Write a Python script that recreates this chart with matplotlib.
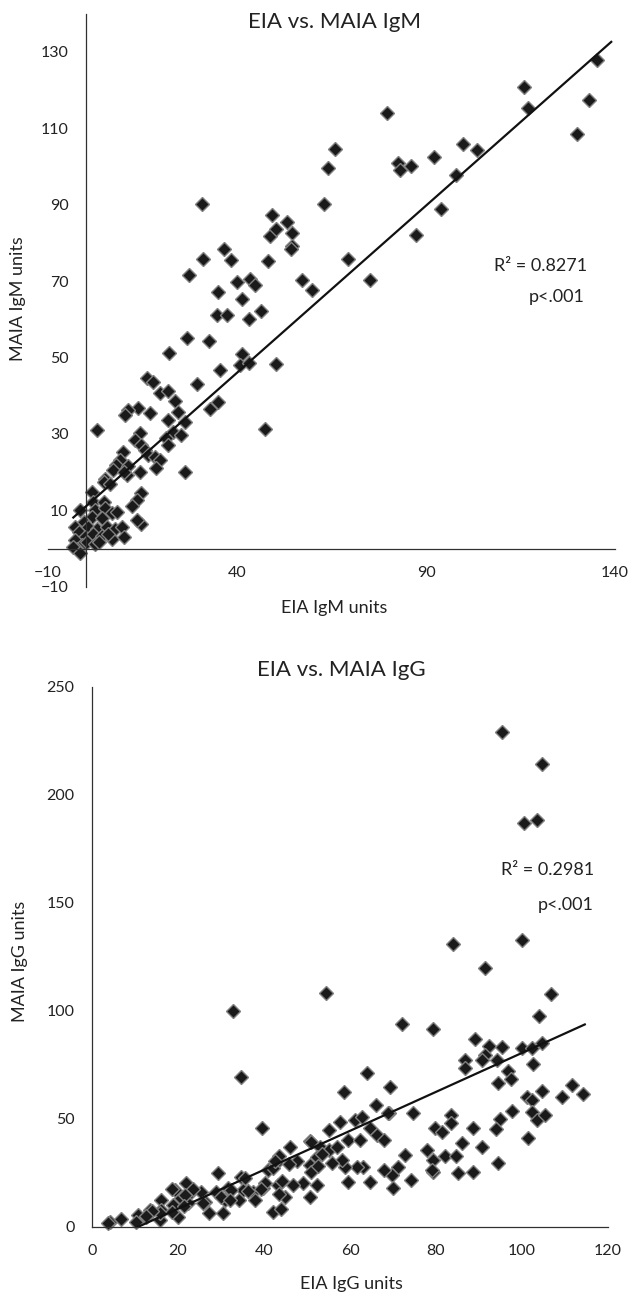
import numpy as np
import matplotlib
matplotlib.use("Agg")
import matplotlib.pyplot as plt

plt.rcParams['font.family'] = ['Lato', 'DejaVu Sans']

# ---- IgM data (EIA units, MAIA units) ----
igm_eia = [
    30.7, 31.1, 27.3, 36.5, 38.4, 35.0, 40.1, 41.2, 43.4, 44.7, 34.8, 37.3, 43.3, 46.4,
    48.3, 49.3, 48.8, 50.3, 53.2, 54.6, 54.6, 54.4, 57.2, 59.9, 62.9, 64.1, 65.9, 69.4,
    75.2, 79.7, 82.6, 83.2, 86.0, 87.4, 92.1, 94.0, 97.9, 99.8, 103.6, 115.9, 116.9,
    130.0, 133.2, 135.2,
    26.8, 32.6, 22.0, 41.4, 40.9, 43.2, 50.4, 35.4, 29.5, 16.1, 17.8, 19.6, 21.8, 23.5,
    35.0, 32.8, 13.8, 11.2, 10.3, 16.9, 24.4, 21.8, 26.2, 23.1, 25.3, 21.3, 21.8, 14.3,
    13.0, 14.7, 9.9, 15.6, 16.5, 18.3, 19.6, 18.7, 9.0, 8.1, 11.2, 14.3, 26.2, 11.0,
    47.4, 2.9,
    7.3, 10.0, 5.1, 4.7, 6.4, 14.6, 13.5, 12.2, 14.6, 13.5, 1.6, -1.5, 2.0, 4.7, 2.5,
    5.0, 6.9, 8.2, 1.6, 4.2, -0.6, -2.8, 0.7, 2.9, 5.6, 7.8, 9.5, -1.9, -0.2, 2.0, 4.2,
    6.9, 10.0, -2.8, -1.1, -2.4, 0.3, 2.5, -3.3, -1.5, 3.4, 6.0,
]
igm_maia = [
    90.3, 75.9, 71.5, 78.5, 75.4, 67.1, 69.7, 65.4, 70.6, 68.9, 61.0, 61.0, 60.1, 62.1,
    75.2, 87.4, 81.9, 83.7, 85.6, 82.7, 79.3, 78.5, 70.3, 67.6, 90.1, 99.7, 104.5, 75.9,
    70.4, 114.0, 100.9, 99.2, 100.1, 82.0, 102.5, 88.8, 97.9, 106.0, 104.4, 120.7, 115.4,
    108.6, 117.3, 127.8,
    55.1, 54.3, 51.3, 51.0, 48.0, 48.6, 48.4, 46.7, 43.1, 44.6, 43.7, 40.6, 41.3, 38.7,
    38.4, 36.4, 36.7, 36.3, 34.9, 35.4, 35.8, 33.6, 33.2, 30.6, 29.7, 28.8, 27.1, 30.2,
    28.4, 27.1, 25.3, 25.8, 24.5, 24.0, 23.2, 21.0, 23.2, 21.9, 21.6, 20.1, 20.1, 19.2,
    31.3, 31.0,
    20.5, 20.1, 18.3, 17.5, 17.0, 14.4, 12.7, 11.1, 6.5, 7.4, 14.8, 10.0, 12.2, 12.2, 10.0,
    10.5, 9.2, 9.6, 8.3, 7.9, 7.0, 5.7, 5.7, 5.2, 5.7, 5.2, 5.7, 4.4, 3.1, 3.9, 3.2,
    2.6, 3.1, 2.2, 0.9, 0.0, 1.7, 1.3, 0.4, -1.3, 1.7, 3.9,
]

# ---- IgG data ----
igg_eia = [
    95.3, 104.7, 100.5, 103.5, 83.9, 99.9, 91.3, 54.5, 106.8, 32.8, 72.0, 79.4, 104.0, 34.7,
    89.1, 92.4, 95.3, 99.9, 102.3, 104.6, 91.4, 90.6, 86.7, 86.7, 94.1, 102.5, 96.8, 97.4,
    94.5, 111.6, 114.1, 109.4, 104.7, 101.1, 102.3, 97.6, 94.9, 94.0, 102.3, 103.4, 105.3,
    101.5, 83.6, 83.6, 79.8, 81.3, 88.5, 86.0, 90.8, 82.1, 84.7, 94.5,
    85.1, 88.7, 79.2, 78.0, 79.2, 64.0, 69.2, 58.7, 66.0, 69.0, 74.7,
    68.9, 57.7, 61.2, 62.7, 55.0, 64.7, 66.2, 67.8, 59.6, 62.3, 50.7, 53.0, 55.0, 56.9,
    46.0, 39.5, 72.8, 71.2, 69.7, 67.8, 74.3, 70.1, 63.1, 61.6, 64.7, 59.6, 58.8, 58.1,
    55.7, 52.3, 50.7, 52.3, 49.1, 46.8, 50.7, 79.0, 51.0, 53.6, 50.9, 52.5,
    4.1, 6.8, 10.7, 10.3, 13.4, 12.6, 15.7, 16.1, 16.0, 18.8, 19.4, 20.0, 20.8, 21.9,
    22.7, 22.3, 25.4, 26.2, 27.1, 29.3, 28.9, 31.6, 30.9, 30.5, 34.7, 35.1, 34.3, 37.4,
    37.8, 39.8, 40.9, 42.9, 42.1, 43.3, 44.8, 42.1, 44.0,
    43.4, 42.5, 47.7, 45.9, 40.3, 39.3, 36.2, 35.6, 32.3, 29.9, 23.6, 21.7, 18.7, 21.4,
    18.6, 15.8, 13.9, 12.6, 3.8, 32.0, 25.7, 44.2, 43.4,
]
igg_maia = [
    229.2, 214.3, 186.9, 188.5, 131.0, 133.0, 119.7, 108.5, 107.8, 99.8, 94.1, 91.8, 97.5, 69.3,
    86.9, 83.8, 83.2, 82.7, 82.7, 85.3, 79.6, 77.3, 77.3, 73.5, 77.3, 75.5, 72.4, 68.4,
    66.5, 65.7, 61.6, 60.0, 63.0, 60.3, 58.8, 53.8, 49.8, 45.2, 53.4, 49.5, 51.8,
    41.1, 51.9, 48.0, 45.7, 44.1, 45.7, 38.7, 36.9, 32.9, 32.9, 29.5,
    24.8, 25.4, 25.4, 35.7, 31.0, 71.3, 64.7, 62.3, 56.6, 53.0, 53.0,
    52.9, 48.8, 49.5, 51.1, 44.9, 45.7, 42.6, 40.3, 40.3, 40.3, 39.8, 37.2, 35.6, 37.2,
    36.9, 45.7, 33.3, 27.9, 24.1, 26.4, 21.8, 17.9, 27.9, 27.9, 21.0, 21.0, 27.9, 31.0,
    29.5, 32.6, 28.7, 19.4, 20.2, 19.4, 14.0, 26.4, 39.4, 33.6, 25.4, 28.2,
    2.5, 3.6, 5.6, 2.5, 7.9, 4.8, 3.2, 12.5, 7.9, 10.2, 17.1, 4.8, 13.3, 20.2,
    15.6, 11.0, 16.3, 11.7, 6.3, 24.9, 16.3, 17.9, 12.5, 6.6, 23.3, 17.1, 12.5, 16.3,
    12.5, 17.9, 26.4, 29.5, 27.2, 19.4, 14.0, 7.1, 8.2,
    32.9, 30.5, 30.5, 29.0, 20.5, 17.7, 16.6, 22.8, 17.1, 14.0, 17.7, 14.6, 17.7, 9.6,
    6.8, 6.5, 7.3, 5.0, 1.9, 12.4, 10.9, 21.2, 15.5,
]

# linear trendlines as drawn in the chart (slope, intercept, x-span)
igm_fit = (0.875, 11.0, -3.3, 139.0)
igg_fit = (0.902, -9.6, 3.8, 114.6)
igm_r2, igg_r2 = "0.8271", "0.2981"

mcol = '#1a1a1a'
ecol = '#808080'
tcol = '#222222'

fig = plt.figure(figsize=(6.33, 12.96), dpi=100)
W, H = 633, 1296


def axes_px(l, t, r, b):
    return fig.add_axes([l / W, 1 - b / H, (r - l) / W, (b - t) / H])


def draw(ax, xs, ys, fit):
    k, c, x0, x1 = fit
    xx = np.array([x0, x1])
    ax.plot(xx, k * xx + c, color='#111111', lw=1.6, zorder=3)
    ax.plot(xs, ys, 'D', ms=7.5, mfc=mcol, mec=ecol, mew=1.0, zorder=2, clip_on=False)
    for s in ['top', 'right']:
        ax.spines[s].set_visible(False)
    for s in ['left', 'bottom']:
        ax.spines[s].set_color('#303030')
        ax.spines[s].set_linewidth(0.9)
    ax.tick_params(length=0, pad=12.5, labelsize=11.5, labelcolor=tcol)


# ---- top: IgM ----
ax1 = axes_px(48, 13.7, 615, 586.7)
draw(ax1, igm_eia, igm_maia, igm_fit)
ax1.set_xlim(-10, 140)
ax1.set_ylim(-10, 140)
ax1.spines['left'].set_position(('data', 0))
ax1.spines['bottom'].set_position(('data', 0))
ax1.set_xticks([-10, 40, 90, 140])
ax1.set_yticks(np.arange(-10, 131, 20))
fig.text(335 / W, 1 - 22 / H, 'EIA vs. MAIA IgM', ha='center', va='center', fontsize=16, color=tcol)
fig.text(334 / W, 1 - 608 / H, 'EIA IgM units', ha='center', va='center', fontsize=13, color=tcol)
fig.text(18 / W, 1 - 299 / H, 'MAIA IgM units', ha='center', va='center', rotation=90, fontsize=13, color=tcol)
fig.text(587 / W, 1 - 266 / H, 'R² = ' + igm_r2, ha='right', va='center', fontsize=13, color=tcol)
fig.text(585 / W, 1 - 297 / H, 'p<.001', ha='right', va='center', fontsize=13, color=tcol)

# ---- bottom: IgG ----
ax2 = axes_px(92, 687, 608, 1227)
draw(ax2, igg_eia, igg_maia, igg_fit)
ax2.set_xlim(0, 120)
ax2.set_ylim(0, 250)
ax2.set_xticks(np.arange(0, 121, 20))
ax2.set_yticks(np.arange(0, 251, 50))
fig.text(341 / W, 1 - 670 / H, 'EIA vs. MAIA IgG', ha='center', va='center', fontsize=16, color=tcol)
fig.text(351 / W, 1 - 1284 / H, 'EIA IgG units', ha='center', va='center', fontsize=13, color=tcol)
fig.text(20 / W, 1 - 961 / H, 'MAIA IgG units', ha='center', va='center', rotation=90, fontsize=13, color=tcol)
fig.text(594 / W, 1 - 870 / H, 'R² = ' + igg_r2, ha='right', va='center', fontsize=13, color=tcol)
fig.text(594 / W, 1 - 905 / H, 'p<.001', ha='right', va='center', fontsize=13, color=tcol)

fig.savefig('out.png', dpi=100)
